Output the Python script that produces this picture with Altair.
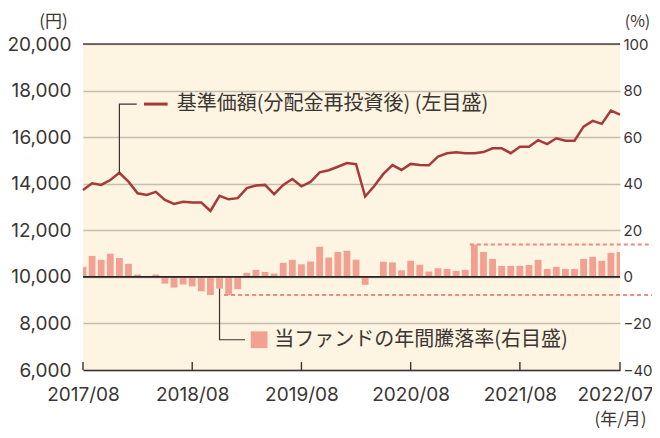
import altair as alt
import pandas as pd

# ---------------- data ----------------
x_tick_pos = [0, 12, 24, 36, 48, 59]
x_tick_labels = ["2017/08", "2018/08", "2019/08", "2020/08", "2021/08", "2022/07"]

# 基準価額（分配金再投資後）, monthly 2017/08 .. 2022/07 (円)
nav = [13730, 14020, 13950, 14160, 14470, 14090, 13590, 13520, 13650, 13300,
       13130, 13220, 13190, 13190, 12830, 13480, 13330, 13380, 13810, 13920,
       13950, 13550, 13950, 14200, 13890, 14080, 14490, 14580, 14730, 14890,
       14840, 13450, 13900, 14420, 14800, 14590, 14850, 14800, 14790, 15160,
       15310, 15350, 15310, 15310, 15360, 15520, 15520, 15310, 15590, 15590,
       15870, 15700, 15950, 15850, 15850, 16450, 16700, 16570, 17140, 16970]

# 年間騰落率 (%)
annual_return = [4.3, 9.0, 7.3, 9.9, 8.1, 5.6, 1.0, 0.1, 1.0, -2.9,
                 -4.6, -3.3, -4.1, -6.2, -7.8, -5.0, -7.8, -5.3, 1.7, 3.0,
                 2.1, 1.4, 6.0, 7.3, 5.4, 6.6, 12.9, 8.3, 10.7, 11.2,
                 7.4, -3.4, -0.3, 6.5, 6.2, 2.8, 6.9, 5.2, 2.3, 3.7,
                 3.4, 2.6, 3.0, 13.9, 10.7, 7.7, 4.7, 4.7, 4.7, 5.1,
                 7.3, 3.4, 4.3, 3.4, 3.4, 7.7, 8.6, 6.9, 10.3, 10.7]

left_ticks = [6000, 8000, 10000, 12000, 14000, 16000, 18000, 20000]
right_ticks = [-40, -20, 0, 20, 40, 60, 80, 100]

line_label = "基準価額(分配金再投資後) (左目盛)"
bar_label = "当ファンドの年間騰落率(右目盛)"

# max / min reference lines (value, start, end in month index)
ref_y = [13.9, -7.8]
ref_x_start = [42.5, 15.5]
ref_x_end = [64, 64]

# annotation anchors (month index / axis value)
line_leader_x = [4, 4, 5.9]
line_leader_y = [14470, 17420, 17420]
line_key_x = [6.7]
line_key_x2 = [9.3]
line_key_y = [17420]
line_text_x = [10.3]
line_text_y = [17420]

bar_leader_x = [15, 15, 17.8]
bar_leader_y = [-5.0, -27.0, -27.0]
bar_key_x = [19.35]
bar_key_y = [-27.0]
bar_text_x = [21.0]
bar_text_y = [-27.0]

# ---------------- styling ----------------
FONT_NUM = "Inter"
FONT_JP = "Noto Sans CJK JP"
TXT = "#3b3534"
DARK = "#3a3232"
BAR = "#F2A091"
LINE = "#A8393B"
REF = "#EE8A80"

W, H = 537, 326
XS = alt.Scale(domain=[0, 59], nice=False, zero=False, padding=0)
YL = alt.Scale(domain=[6000, 20000], nice=False, zero=False)
YR = alt.Scale(domain=[-40, 100], nice=False, zero=False)

df = pd.DataFrame({"i": list(range(len(nav))), "nav": nav, "ret": annual_return})

label_expr = "".join(f"datum.value == {p} ? '{s}' : " for p, s in zip(x_tick_pos, x_tick_labels)) + "''"

x_axis = alt.Axis(orient="bottom", values=x_tick_pos, labelExpr=label_expr, title="(年/月)",
                  grid=False, ticks=False, domain=True, domainColor=DARK, domainWidth=1.6,
                  labelFont=FONT_NUM, labelFontSize=19, labelColor=TXT, labelPadding=15,
                  labelFlush=False, labelOverlap=False,
                  labelOffset={"condition": {"test": f"datum.value == {x_tick_pos[-1]}", "value": -5},
                               "value": 0},
                  titleFont=FONT_JP, titleFontSize=17, titleFontWeight="normal",
                  titleColor=TXT, titleX=537, titleY=49, titleAlign="center",
                  titleBaseline="middle", titleAngle=0)


def X(field):
    return alt.X(field, scale=XS, axis=x_axis)


yl_axis = alt.Axis(orient="left", values=left_ticks, format=",d", grid=True,
                   gridColor="#C6BEAF", gridWidth=1.5, ticks=False, domain=False,
                   labelFont=FONT_NUM, labelFontSize=19, labelColor=TXT, labelPadding=12,
                   title="(円)", titleAngle=0, titleX=-30, titleY=-23, titleAlign="center",
                   titleBaseline="middle", titleFont=FONT_JP, titleFontSize=17,
                   titleFontWeight="normal", titleColor=TXT)

yr_axis = alt.Axis(orient="right", values=right_ticks, grid=False, ticks=False, domain=False,
                   labelFont=FONT_NUM, labelFontSize=15, labelColor=TXT, labelPadding=3,
                   title="(%)", titleAngle=0, titleX=17, titleY=-23, titleAlign="center",
                   titleBaseline="middle", titleFont=FONT_JP, titleFontSize=16,
                   titleFontWeight="normal", titleColor=TXT)

# ---------------- right-scale layers (bars) ----------------
bars = alt.Chart(df).mark_bar(width=6.8, color=BAR, clip=True).encode(
    x=X("i:Q"),
    y=alt.Y("ret:Q", scale=YR, axis=yr_axis),
    y2=alt.datum(0),
)

ref_df = pd.DataFrame({"y": ref_y, "x": ref_x_start, "x2": ref_x_end})
refs = alt.Chart(ref_df).mark_rule(color=REF, strokeDash=[4, 3], strokeWidth=1.8).encode(
    x=X("x:Q"), x2="x2:Q",
    y=alt.Y("y:Q", scale=YR, axis=None),
)

zero_rule = alt.Chart(pd.DataFrame({"z": [0]})).mark_rule(color="#2b2424", strokeWidth=1.6).encode(
    y=alt.Y("z:Q", scale=YR, axis=None)
)

bar_leader = alt.Chart(pd.DataFrame({"x": bar_leader_x, "y": bar_leader_y, "o": [0, 1, 2]})).mark_line(
    color=DARK, strokeWidth=1.2).encode(
    x=X("x:Q"), y=alt.Y("y:Q", scale=YR, axis=None), order="o:Q")

bar_key = alt.Chart(pd.DataFrame({"x": bar_key_x, "y": bar_key_y})).mark_square(
    size=280, color=BAR, opacity=1).encode(
    x=X("x:Q"), y=alt.Y("y:Q", scale=YR, axis=None))

bar_text = alt.Chart(pd.DataFrame({"x": bar_text_x, "y": bar_text_y, "t": [bar_label]})).mark_text(
    align="left", baseline="middle", font=FONT_JP, fontSize=20, color=TXT).encode(
    x=X("x:Q"), y=alt.Y("y:Q", scale=YR, axis=None), text="t:N")

# ---------------- left-scale layers (NAV) ----------------
top_rule = alt.Chart(pd.DataFrame({"z": [20000]})).mark_rule(color="#4a4242", strokeWidth=1.5).encode(
    y=alt.Y("z:Q", scale=YL, axis=None)
)

x_ticks = alt.Chart(pd.DataFrame({"x": x_tick_pos, "y0": [6000] * 6, "y1": [6340] * 6})).mark_rule(
    color=DARK, strokeWidth=1.4).encode(
    x=X("x:Q"), y=alt.Y("y0:Q", scale=YL, axis=None), y2="y1:Q")

nav_line = alt.Chart(df).mark_line(color=LINE, strokeWidth=2.5).encode(
    x=X("i:Q"),
    y=alt.Y("nav:Q", scale=YL, axis=yl_axis),
)

line_leader = alt.Chart(pd.DataFrame({"x": line_leader_x, "y": line_leader_y, "o": [0, 1, 2]})).mark_line(
    color=DARK, strokeWidth=1.2).encode(
    x=X("x:Q"), y=alt.Y("y:Q", scale=YL, axis=None), order="o:Q")

line_key = alt.Chart(pd.DataFrame({"x": line_key_x, "x2": line_key_x2, "y": line_key_y})).mark_rule(
    color=LINE, strokeWidth=3).encode(
    x=X("x:Q"), x2="x2:Q", y=alt.Y("y:Q", scale=YL, axis=None))

line_text = alt.Chart(pd.DataFrame({"x": line_text_x, "y": line_text_y, "t": [line_label]})).mark_text(
    align="left", baseline="middle", font=FONT_JP, fontSize=20, color=TXT).encode(
    x=X("x:Q"), y=alt.Y("y:Q", scale=YL, axis=None), text="t:N")

chart = alt.layer(
    nav_line, bars, refs, zero_rule, bar_leader, bar_key, bar_text,
    top_rule, x_ticks, line_leader, line_key, line_text,
).resolve_scale(y="independent").properties(
    width=W, height=H,
    autosize=alt.AutoSizeParams(type="none"),
    padding={"left": 75, "top": 36, "right": 32, "bottom": 58},
).configure_view(fill="#FDF4E1", stroke=None)

chart.save("out.html", embed_options={"renderer": "svg", "actions": False})
